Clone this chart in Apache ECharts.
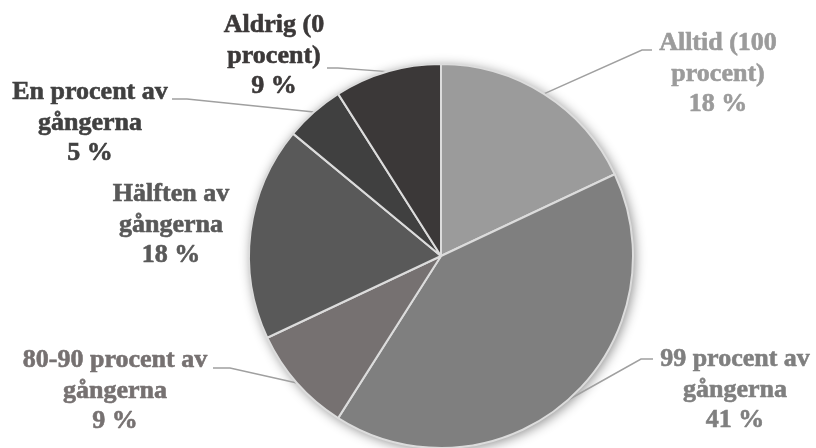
<!DOCTYPE html>
<html>
<head>
<meta charset="utf-8">
<script src="https://cdn.jsdelivr.net/npm/echarts@6/dist/echarts.min.js"></script>
<style>
  html, body { margin: 0; padding: 0; background: #ffffff; }
  #chart { width: 816px; height: 448px; }
</style>
</head>
<body>
<div id="chart"></div>
<script>
// Answer categories (clockwise from the top) and their shares in percent
const categories = [
  'Alltid (100\nprocent)',
  '99 procent av\ngångerna',
  '80-90 procent av\ngångerna',
  'Hälften av\ngångerna',
  'En procent av\ngångerna',
  'Aldrig (0\nprocent)'
];
const shares = [18, 41, 9, 18, 5, 9];

// Slice / label colours
const colors = ['#9b9b9b', '#7f7f7f', '#767171', '#595959', '#404040', '#3b3838'];

// Label block centres and leader-line bends, per slice
const labelPlacement = [
  { x: 718, y: 74,  line: [[642, 50], [652, 50]] },
  { x: 735, y: 390, line: [[641, 359], [653, 359]] },
  { x: 115, y: 391, line: [[230, 368], [213, 368]] },
  { x: 171, y: 225, line: null },
  { x: 90,  y: 123, line: [[187, 99], [172, 99]] },
  { x: 274, y: 56,  line: [[338, 68], [327, 68]] }
];

const CENTER = [441, 256];
const RADIUS = 192;

const chart = echarts.init(document.getElementById('chart'), null, { renderer: 'canvas' });

const pieData = categories.map((name, i) => ({
  name: name,
  value: shares[i],
  itemStyle: { color: colors[i] },
  label: { color: colors[i], textBorderColor: colors[i] },
  labelLine: { show: labelPlacement[i].line !== null }
}));

chart.setOption({
  animation: false,
  backgroundColor: '#ffffff',
  series: [
    {
      // soft drop shadow behind the whole disc
      type: 'pie',
      silent: true,
      z: 1,
      center: CENTER,
      radius: RADIUS,
      label: { show: false },
      labelLine: { show: false },
      itemStyle: {
        color: '#ffffff',
        shadowBlur: 12,
        shadowColor: 'rgba(0,0,0,0.45)',
        shadowOffsetX: 2,
        shadowOffsetY: 2
      },
      data: [{ value: 1, name: '' }]
    },
    {
      type: 'pie',
      z: 2,
      center: CENTER,
      radius: RADIUS,
      startAngle: 90,
      clockwise: true,
      avoidLabelOverlap: false,
      itemStyle: { borderColor: '#dcdcdc', borderWidth: 2 },
      label: {
        show: true,
        position: 'outside',
        fontFamily: '"Liberation Serif", "Times New Roman", serif',
        fontWeight: 'bold',
        fontSize: 26,
        lineHeight: 30.5,
        align: 'center',
        textBorderWidth: 0.6,
        formatter: (p) => p.name + '\n' + Math.round(p.percent) + ' %'
      },
      labelLine: {
        show: true,
        length: 20,
        length2: 10,
        lineStyle: { color: '#a0a0a0', width: 1.5 }
      },
      labelLayout: (params) => {
        const place = labelPlacement[params.dataIndex];
        const out = {
          x: place.x,
          y: place.y,
          align: 'center',
          verticalAlign: 'middle',
          hideOverlap: false,
          moveOverlap: null
        };
        if (place.line && params.labelLinePoints) {
          out.labelLinePoints = [params.labelLinePoints[0], place.line[0], place.line[1]];
        }
        return out;
      },
      emphasis: { disabled: true },
      data: pieData
    }
  ]
});
</script>
</body>
</html>
